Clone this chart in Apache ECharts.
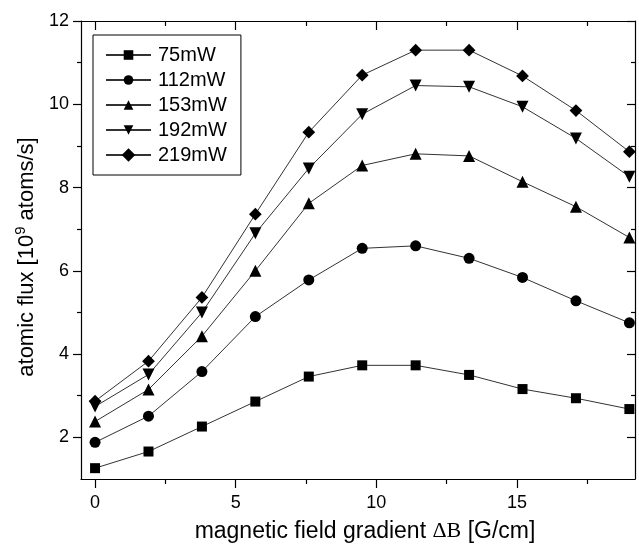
<!DOCTYPE html>
<html>
<head>
<meta charset="utf-8">
<script src="https://cdn.jsdelivr.net/npm/echarts@6/dist/echarts.min.js"></script>
<style>
  html, body { margin: 0; padding: 0; background: #fff; }
  #chart { width: 639px; height: 544px; }
</style>
</head>
<body>
<div id="chart"></div>
<script>
// magnetic field gradient (G/cm)
const gradient = [0, 1.9, 3.8, 5.7, 7.6, 9.5, 11.4, 13.3, 15.2, 17.1, 19.0];

// atomic flux, 10^9 atoms/s
const flux75 = [1.26, 1.66, 2.26, 2.86, 3.46, 3.73, 3.73, 3.5, 3.16, 2.94, 2.68];
const flux112 = [1.88, 2.51, 3.58, 4.9, 5.78, 6.54, 6.6, 6.3, 5.84, 5.28, 4.75];
const flux153 = [2.38, 3.15, 4.43, 6.0, 7.62, 8.53, 8.81, 8.76, 8.14, 7.54, 6.8];
const flux192 = [2.74, 3.51, 5.0, 6.9, 8.46, 9.76, 10.45, 10.42, 9.94, 9.18, 8.26];
const flux219 = [2.87, 3.83, 5.36, 7.36, 9.33, 10.7, 11.3, 11.3, 10.68, 9.85, 8.86];

const seriesNames = ["75mW", "112mW", "153mW", "192mW", "219mW"];

// tick labels
const xMajor = [0, 5, 10, 15];
const xMinor = [2.5, 7.5, 12.5, 17.5];
const yMajor = [2, 4, 6, 8, 10, 12];
const yMinor = [3, 5, 7, 9, 11];

const font = "'Liberation Sans', Arial, sans-serif";

const pair = (ys) => gradient.map((x, i) => [x, ys[i]]);

// 每条曲线的标记样式
const marks = [
  { symbol: "rect", size: 10, rotate: 0 },
  { symbol: "circle", size: 11, rotate: 0 },
  { symbol: "triangle", size: 12, rotate: 0 },
  { symbol: "triangle", size: 12, rotate: 180 },
  { symbol: "rect", size: 9, rotate: 45 },
];
const allData = [flux75, flux112, flux153, flux192, flux219];

// 坐标轴（下/上、左/右各一对：主刻度 + 次刻度）
const xRange = { min: -0.5, max: 19.2 };
const yRange = { min: 1, max: 12 };

const makeX = (position, ticks, len, inside, withLine, withLabel) => ({
  type: "value",
  position: position,
  ...xRange,
  axisLine: { show: withLine, onZero: false, lineStyle: { color: "#000", width: 1.2 } },
  axisTick: { show: true, inside: inside, length: len, customValues: ticks, lineStyle: { color: "#000", width: 1.2 } },
  axisLabel: withLabel
    ? { show: true, customValues: ticks, color: "#000", fontSize: 18, fontFamily: font, margin: 15 }
    : { show: false },
  splitLine: { show: false },
});

const makeY = (position, ticks, len, inside, withLine, withLabel) => ({
  type: "value",
  position: position,
  ...yRange,
  axisLine: { show: withLine, onZero: false, lineStyle: { color: "#000", width: 1.2 } },
  axisTick: { show: true, inside: inside, length: len, customValues: ticks, lineStyle: { color: "#000", width: 1.2 } },
  axisLabel: withLabel
    ? { show: true, customValues: ticks, color: "#000", fontSize: 18, fontFamily: font, margin: 12 }
    : { show: false },
  splitLine: { show: false },
});

const xAxes = [
  makeX("bottom", xMajor, 9, false, true, true),
  makeX("bottom", xMinor, 5, false, false, false),
  makeX("top", xMajor, 9, true, true, false),
  makeX("top", xMinor, 5, true, false, false),
];
xAxes[0].name = "magnetic field gradient {s|ΔB} [G/cm]";
xAxes[0].nameLocation = "middle";
xAxes[0].nameGap = 41;
xAxes[0].nameTextStyle = {
  color: "#000",
  fontSize: 23,
  fontFamily: font,
  padding: [0, 0, 0, 14],
  rich: { s: { fontSize: 22, fontFamily: "'Liberation Serif', serif", color: "#000" } },
};

const yAxes = [
  makeY("left", yMajor, 8, false, true, true),
  makeY("left", yMinor, 4, false, false, false),
  makeY("right", yMajor, 8, true, true, false),
  makeY("right", yMinor, 4, true, false, false),
];
yAxes[0].name = "atomic flux [10{sup|9} atoms/s]";
yAxes[0].nameLocation = "middle";
yAxes[0].nameGap = 41;
yAxes[0].nameTextStyle = {
  color: "#000",
  fontSize: 22,
  fontFamily: font,
  padding: [0, 14, 0, 0],
  rich: {
    sup: { fontSize: 15, fontFamily: font, color: "#000", verticalAlign: "top", padding: [0, 0, 12, 0] },
  },
};

const option = {
  backgroundColor: "#fff",
  animation: false,
  grid: { left: 81, right: 4, top: 21, bottom: 65, containLabel: false, outerBoundsMode: "none" },
  legend: {
    orient: "vertical",
    left: 93,
    top: 35,
    padding: [10, 14, 10, 12],
    borderColor: "#000",
    borderWidth: 1,
    itemWidth: 45,
    itemHeight: 12,
    itemGap: 5,
    textStyle: { color: "#000", fontSize: 20, fontFamily: font, padding: [0, 0, 0, 2] },
    data: seriesNames,
  },
  xAxis: xAxes,
  yAxis: yAxes,
  series: seriesNames.map((name, i) => ({
    name: name,
    type: "line",
    xAxisIndex: 0,
    yAxisIndex: 0,
    data: pair(allData[i]),
    symbol: marks[i].symbol,
    symbolSize: marks[i].size,
    symbolRotate: marks[i].rotate,
    showAllSymbol: true,
    lineStyle: { color: "#333", width: 1 },
    itemStyle: { color: "#000" },
    emphasis: { disabled: true },
  })),
};

const chart = echarts.init(document.getElementById("chart"));
chart.setOption(option);
</script>
</body>
</html>
